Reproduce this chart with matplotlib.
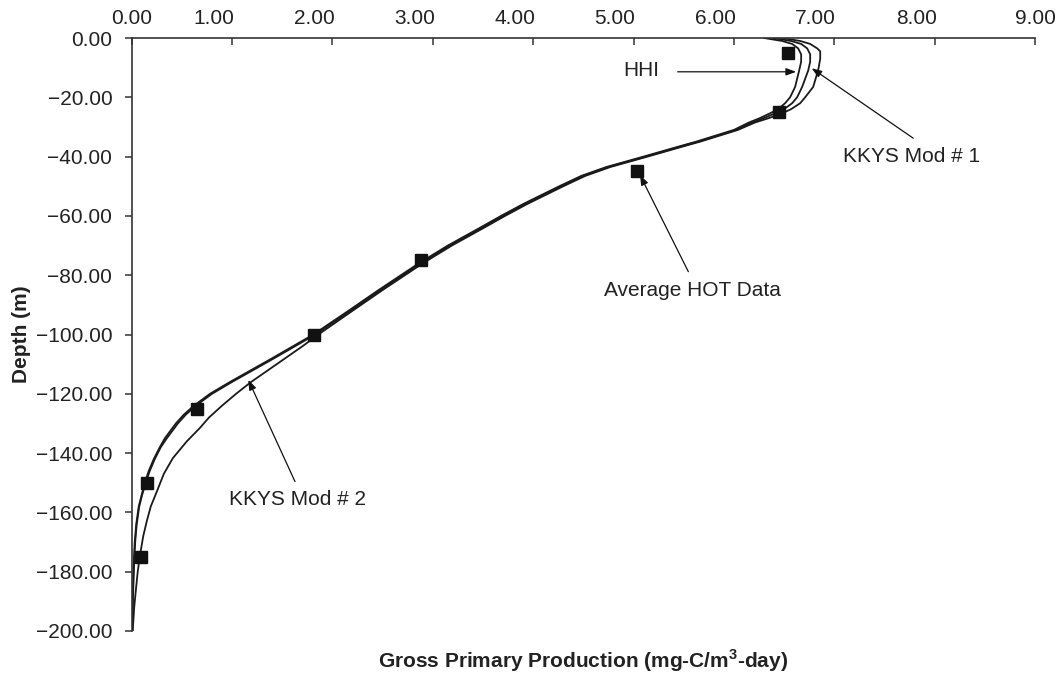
import matplotlib
matplotlib.use("Agg")
import matplotlib.pyplot as plt
import matplotlib.transforms as mtransforms

plt.rcParams['font.family'] = ['Liberation Sans', 'DejaVu Sans']
plt.rcParams['mathtext.fontset'] = 'custom'
plt.rcParams['mathtext.rm'] = 'Liberation Sans'
plt.rcParams['mathtext.bf'] = 'Liberation Sans:bold'

# ---------------- data ----------------
hot_gpp = [6.54, 6.45, 5.03, 2.88, 1.82, 0.65, 0.155, 0.09]
hot_depth = [-5, -25, -45, -75, -100, -125, -150, -175]

hhi_depth = [0, -1, -2, -3.5, -5.5, -8, -11, -16.5, -20, -22, -24, -25.4, -27, -28.5, -31,
             -33, -35, -36.8, -40, -43.5, -46.5, -50, -56, -60, -64, -70, -76, -85, -92,
             -100, -108, -116, -120, -124, -127, -130, -135, -138, -142, -146, -150, -154,
             -158, -164, -170, -176, -183, -190, -200]
hhi_gpp = [6.30, 6.48, 6.58, 6.64, 6.67, 6.67, 6.65, 6.61, 6.56, 6.51, 6.44, 6.36, 6.26, 6.15, 6.00,
           5.81, 5.62, 5.43, 5.10, 4.73, 4.48, 4.26, 3.90, 3.68, 3.47, 3.15, 2.86, 2.46, 2.16,
           1.81, 1.40, 0.98, 0.78, 0.62, 0.52, 0.44, 0.33, 0.28, 0.22, 0.17, 0.13, 0.10,
           0.07, 0.045, 0.03, 0.022, 0.015, 0.01, 0.005]

mod1_depth = [0, -1, -2, -3.5, -5.5, -8, -11, -16.5, -20, -22, -24, -25.4, -27, -28.5, -31,
              -33, -35, -36.8, -40, -43.5, -46.5, -50, -56, -60, -64, -70, -76, -85, -92,
              -100, -108, -116, -120, -124, -127, -130, -135, -138, -142, -146, -150, -154,
              -158, -164, -170, -176, -183, -190, -200]
mod1_gpp = [6.39, 6.57, 6.67, 6.73, 6.76, 6.76, 6.74, 6.68, 6.63, 6.58, 6.50, 6.41, 6.30, 6.18, 6.02,
            5.83, 5.64, 5.45, 5.12, 4.75, 4.50, 4.28, 3.92, 3.70, 3.49, 3.17, 2.88, 2.48, 2.18,
            1.83, 1.42, 1.00, 0.80, 0.64, 0.54, 0.46, 0.35, 0.29, 0.23, 0.18, 0.14, 0.105,
            0.075, 0.05, 0.035, 0.025, 0.018, 0.012, 0.006]

mod2_depth = [0, -1, -2, -3.5, -4.5, -7, -10.8, -16.5, -20, -22, -24, -25.4, -27, -28.5, -31,
              -33, -35, -36.8, -40, -43.5, -46.5, -50, -56, -60, -64, -70, -76, -85, -92,
              -100, -104, -108, -112, -116, -120, -124, -128, -131.5, -136, -141.7, -147,
              -153, -158, -163, -168, -174.4, -180, -185.7, -192, -200]
mod2_gpp = [6.48, 6.66, 6.76, 6.83, 6.86, 6.86, 6.84, 6.79, 6.71, 6.66, 6.57, 6.48, 6.35, 6.21, 6.04,
            5.85, 5.66, 5.47, 5.14, 4.77, 4.52, 4.30, 3.94, 3.72, 3.51, 3.19, 2.90, 2.50, 2.20,
            1.86, 1.70, 1.53, 1.36, 1.19, 1.04, 0.90, 0.77, 0.68, 0.55, 0.41, 0.32,
            0.25, 0.19, 0.15, 0.115, 0.083, 0.06, 0.043, 0.025, 0.01]

x_ticks = [0, 1, 2, 3, 4, 5, 6, 7, 8, 9]
x_tick_labels = ["0.00", "1.00", "2.00", "3.00", "4.00", "5.00", "6.00", "7.00", "8.00", "9.00"]
y_ticks = [0, -20, -40, -60, -80, -100, -120, -140, -160, -180, -200]
y_tick_labels = ["0.00", "\u221220.00", "\u221240.00", "\u221260.00", "\u221280.00",
                 "\u2212100.00", "\u2212120.00", "\u2212140.00", "\u2212160.00",
                 "\u2212180.00", "\u2212200.00"]

# ---------------- figure ----------------
W, H = 1061, 677
fig = plt.figure(figsize=(W / 100, H / 100), dpi=100)
left, right, top, bottom = 131.7, 1035.0, 38.0, 631.0
ax = fig.add_axes([left / W, 1 - bottom / H, (right - left) / W, (bottom - top) / H])

lc = '#1a1a1a'
for d, g in [(hhi_depth, hhi_gpp), (mod1_depth, mod1_gpp), (mod2_depth, mod2_gpp)]:
    ax.plot(g, d, color=lc, lw=1.3, solid_joinstyle='round', zorder=2)
ax.plot(hot_gpp, hot_depth, linestyle='none', marker='s', ms=8, color='#111111', zorder=3)

ax.set_xlim(0, 9)
ax.set_ylim(-200, 0)

for s in ['right', 'bottom']:
    ax.spines[s].set_visible(False)
for s in ['top', 'left']:
    ax.spines[s].set_color('#333333')
    ax.spines[s].set_linewidth(1.2)

ax.xaxis.tick_top()
ax.set_xticks(x_ticks)
ax.set_xticklabels(x_tick_labels, fontsize=15, color='#222222')
ax.set_yticks(y_ticks)
ax.set_yticklabels(y_tick_labels, fontsize=15, color='#222222')
ax.tick_params(axis='x', direction='in', length=5, width=1.1, color='#333333', pad=7)
ax.tick_params(axis='y', direction='out', length=5, width=1.1, color='#333333', pad=9)

# Excel-like offset of inner x tick labels
offset = mtransforms.ScaledTranslation(-18.5 / 100, 0, fig.dpi_scale_trans)
for lab in ax.get_xticklabels()[1:-1]:
    lab.set_transform(lab.get_transform() + offset)

fig.text(583 / W, 1 - 661 / H, r"Gross Primary Production (mg-C/m$^{\mathbf{3}}$-day)",
         fontsize=15, fontweight='bold', ha='center', va='center', color='#222222')
fig.text(22 / W, 1 - 334 / H, "Depth (m)", rotation=90, fontsize=15, fontweight='bold',
         ha='center', va='center', color='#222222')

# annotations
arrow_kw = dict(arrowstyle='-|>,head_length=0.6,head_width=0.22', color='#111111', lw=0.9,
                shrinkA=0, shrinkB=0)
ax.text(5.08, -11.1, "HHI", fontsize=15, ha='center', va='center', color='#222222')
ax.annotate("", xy=(6.62, -11.4), xytext=(5.44, -11.4), arrowprops=arrow_kw)

ax.text(7.77, -40.1, "KKYS Mod # 1", fontsize=15, ha='center', va='center', color='#222222')
ax.annotate("", xy=(6.775, -10.2), xytext=(7.787, -33.8), arrowprops=arrow_kw)

ax.text(5.587, -85.0, "Average HOT Data", fontsize=15, ha='center', va='center', color='#222222')
ax.annotate("", xy=(5.064, -46.2), xytext=(5.546, -78.8), arrowprops=arrow_kw)

ax.text(1.652, -155.8, "KKYS Mod # 2", fontsize=15, ha='center', va='center', color='#222222')
ax.annotate("", xy=(1.162, -115.3), xytext=(1.627, -149.6), arrowprops=arrow_kw)

fig.savefig("out.png", dpi=100)
